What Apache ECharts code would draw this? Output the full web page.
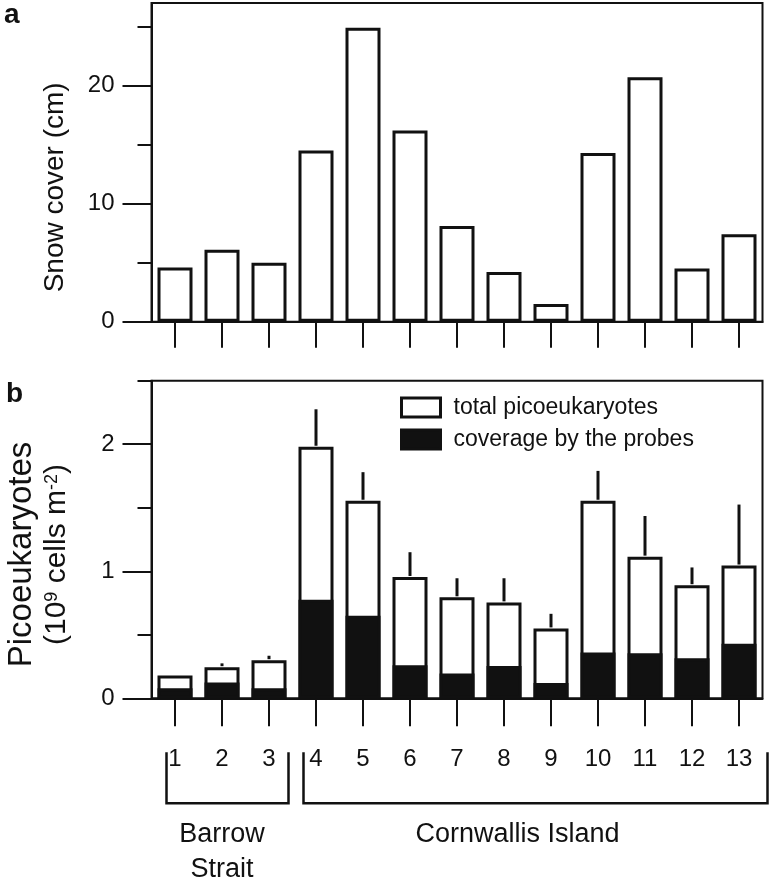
<!DOCTYPE html>
<html><head><meta charset="utf-8">
<script src="https://cdn.jsdelivr.net/npm/echarts@6/dist/echarts.min.js"></script>
<style>html,body{margin:0;padding:0;background:#fff}#c{width:770px;height:879px}</style>
</head><body><div id="c"></div>
<script>
// ---- data ----
const sites = ['1','2','3','4','5','6','7','8','9','10','11','12','13'];
const snowCover = [4.6, 6.1, 5.0, 14.5, 24.9, 16.2, 8.1, 4.2, 1.5, 14.3, 20.7, 4.5, 7.4];
const totalPico = [0.18, 0.245, 0.30, 1.98, 1.555, 0.955, 0.795, 0.755, 0.55, 1.555, 1.115, 0.89, 1.045];
const probeCoverage = [0.08, 0.125, 0.08, 0.775, 0.65, 0.26, 0.195, 0.255, 0.12, 0.36, 0.355, 0.315, 0.43];
const totalErr = [0, 0.03, 0.035, 0.295, 0.225, 0.195, 0.15, 0.19, 0.115, 0.235, 0.32, 0.14, 0.48];
const snowMajorTicks = [0, 10, 20];
const snowMinorTicks = [5, 15, 25];
const picoMajorTicks = [0, 1, 2];
const picoMinorTicks = [0.5, 1.5, 2.5];
const seriesNames = ['total picoeukaryotes', 'coverage by the probes'];
const groups = [
  {name: 'Barrow\nStrait', from: '1', to: '3', padL: 15, padR: -4, textDx: 0},
  {name: 'Cornwallis Island', from: '4', to: '13', padL: 11, padR: 5, textDx: -10}
];

// ---- chart ----
const FONT = "'Liberation Sans', Arial, Helvetica, sans-serif";
const INK = '#111';
const chart = echarts.init(document.getElementById('c'));
const L = 151.5, W = 611;
const lineS = {color: INK, width: 2};

function catAxis(grid, tickLen, showLabel) {
  return {
    type: 'category', gridIndex: grid, data: sites, boundaryGap: true,
    axisLine: {show: true, lineStyle: lineS},
    axisTick: {show: true, alignWithLabel: true, length: tickLen, lineStyle: {color: INK, width: 2}},
    axisLabel: {show: showLabel, margin: 49, fontSize: 24, color: INK, fontFamily: FONT, interval: 0},
    splitLine: {show: false}
  };
}
function valAxis(grid, max, ticks, extra) {
  return Object.assign({
    type: 'value', gridIndex: grid, position: 'left', min: 0, max: max,
    axisLine: {show: true, lineStyle: lineS},
    axisTick: {show: true, length: 29, customValues: ticks, lineStyle: {color: INK, width: 2}},
    axisLabel: {show: true, customValues: ticks, margin: 37, fontSize: 24, color: INK, fontFamily: FONT},
    splitLine: {show: false}
  }, extra);
}
function minorAxis(grid, max, ticks) {
  return {
    type: 'value', gridIndex: grid, position: 'left', min: 0, max: max,
    axisLine: {show: false},
    axisTick: {show: true, length: 14, customValues: ticks, lineStyle: {color: INK, width: 2}},
    axisLabel: {show: false}, splitLine: {show: false}
  };
}

const option = {
  animation: false,
  backgroundColor: '#fff',
  textStyle: {fontFamily: FONT, color: INK},
  grid: [
    {left: L, top: 3, width: W, height: 318.7, show: true, borderColor: INK, borderWidth: 2,
     containLabel: false, outerBoundsMode: 'none'},
    {left: L, top: 380.7, width: W, height: 317.6, show: true, borderColor: INK, borderWidth: 2,
     containLabel: false, outerBoundsMode: 'none'}
  ],
  xAxis: [catAxis(0, 26, false), catAxis(1, 28, true)],
  yAxis: [
    valAxis(0, 27, snowMajorTicks, {
      name: 'Snow cover (cm)', nameLocation: 'middle', nameGap: 82,
      nameTextStyle: {fontSize: 28, color: INK, fontFamily: FONT, padding: [0, 50, 0, 0]}
    }),
    minorAxis(0, 27, snowMinorTicks),
    valAxis(1, 2.5, picoMajorTicks, {
      name: '{p|Picoeukaryotes}\n{n|(10}{s|9}{n| cells m}{s|-2}{n|)}', nameLocation: 'middle', nameGap: 77,
      nameTextStyle: {
        color: INK, fontFamily: FONT, padding: [0, 30, 0, 0],
        rich: {
          p: {fontSize: 33, lineHeight: 35, color: INK, fontFamily: FONT},
          n: {fontSize: 30, lineHeight: 35, color: INK, fontFamily: FONT},
          s: {fontSize: 18, lineHeight: 35, verticalAlign: 'top', padding: [4, 0, 0, 0], color: INK, fontFamily: FONT}
        }
      }
    }),
    minorAxis(1, 2.5, picoMinorTicks)
  ],
  legend: {
    orient: 'vertical', left: 400, top: 396, padding: 0,
    itemWidth: 39, itemHeight: 19, itemGap: 9, icon: 'rect',
    textStyle: {fontSize: 23, color: INK, fontFamily: FONT, padding: [0, 0, 0, 8]},
    selectedMode: false,
    data: [
      {name: seriesNames[0], itemStyle: {color: '#fff', borderColor: INK, borderWidth: 3}},
      {name: seriesNames[1], itemStyle: {color: INK, borderColor: INK, borderWidth: 3}}
    ]
  },
  series: [
    {type: 'bar', xAxisIndex: 0, yAxisIndex: 0, data: snowCover, barWidth: 35,
     itemStyle: {color: '#fff', borderColor: INK, borderWidth: 3}, silent: true},
    {type: 'bar', name: seriesNames[0], xAxisIndex: 1, yAxisIndex: 2, data: totalPico, barWidth: 35, barGap: '-100%',
     itemStyle: {color: '#fff', borderColor: INK, borderWidth: 3}, silent: true},
    {type: 'bar', name: seriesNames[1], xAxisIndex: 1, yAxisIndex: 2, data: probeCoverage, barWidth: 35, barGap: '-100%',
     itemStyle: {color: INK, borderColor: INK, borderWidth: 3}, silent: true},
    {type: 'custom', xAxisIndex: 1, yAxisIndex: 2, silent: true,
     data: sites.map((s, i) => [i, totalPico[i], totalErr[i]]),
     encode: {x: 0, y: 1},
     renderItem: function (params, api) {
       const i = api.value(0), t = api.value(1), e = api.value(2);
       if (!e) return null;
       const p0 = api.coord([i, t]), p1 = api.coord([i, t + e]);
       return {type: 'line', shape: {x1: p0[0], y1: p0[1] - 1, x2: p1[0], y2: p1[1]},
               style: {stroke: INK, lineWidth: 3}};
     }}
  ]
};
chart.setOption(option);

// ---- annotations derived from the axes ----
const cx = (c) => chart.convertToPixel({xAxisIndex: 1}, c);
const y0 = chart.convertToPixel({yAxisIndex: 2}, 0);
const half = (cx('2') - cx('1')) / 2;
const gfx = [
  {type: 'text', left: 4, top: 1, style: {text: 'a', fontSize: 28, fontWeight: 'bold', fill: INK, fontFamily: FONT}},
  {type: 'text', left: 6, top: 380, style: {text: 'b', fontSize: 28, fontWeight: 'bold', fill: INK, fontFamily: FONT}}
];
groups.forEach(g => {
  const xl = cx(g.from) - half + g.padL, xr = cx(g.to) + half + g.padR;
  const yt = y0 + 54, yb = y0 + 105;
  gfx.push({type: 'polyline', shape: {points: [[xl, yt], [xl, yb], [xr, yb], [xr, yt]]},
            style: {stroke: INK, lineWidth: 2.5, fill: null}});
  const tx = (cx(g.from) + cx(g.to)) / 2 + g.textDx;
  gfx.push({type: 'text', x: tx, y: yb + 14,
            style: {text: g.name, fontSize: 27, lineHeight: 35, fill: INK, fontFamily: FONT,
                    align: 'center', verticalAlign: 'top'}});
});
chart.setOption({graphic: gfx});
</script></body></html>
